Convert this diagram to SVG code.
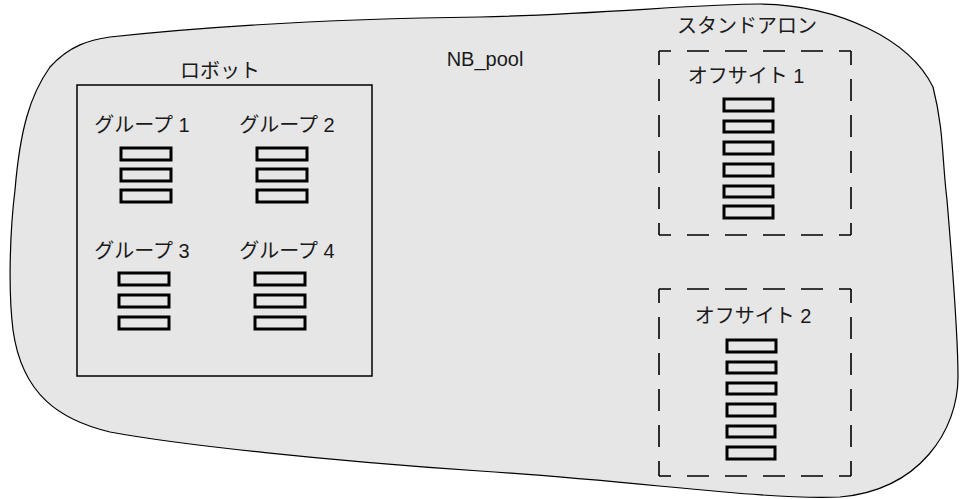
<svg xmlns="http://www.w3.org/2000/svg" width="961" height="499" viewBox="0 0 961 499">
<style>
text{font-family:"Liberation Sans","Noto Sans CJK JP",sans-serif;font-size:20px;fill:#1a1a1a;text-anchor:middle}
.slot{fill:none;stroke:#000;stroke-width:3}
.box{fill:none;stroke:#000;stroke-width:1.5}
.dh{fill:none;stroke:#000;stroke-width:1.6;stroke-dasharray:22 16;stroke-dashoffset:10}
.dv{fill:none;stroke:#000;stroke-width:1.6;stroke-dasharray:22 14;stroke-dashoffset:8}
</style>
<rect width="961" height="499" fill="#fff"/>
<g id="nb_pool">
<path d="M933,87 C944,130 942,160 947,200 C952,260 958,330 958,377 C958,430 920,490 840,497 C760,500 650,482 480,471 C330,461 180,445 110,432 C60,420 22,395 13,330 C8,290 10,230 15,190 C20,130 30,95 50,67 C70,45 90,40 110,37 C250,22 400,18 480,17 C600,14 700,4 760,4 C840,5 910,40 933,87 Z" fill="#e6e6e6" stroke="#000" stroke-width="1.2"/>
<text x="485" y="66">NB_pool</text>
</g>
<g id="robot">
<rect class="box" x="77" y="85" width="295" height="291"/>
<text x="220" y="78">ロボット</text>
</g>
<g id="group1">
<text x="142" y="132">グループ 1</text>
<rect class="slot" x="121" y="148" width="50" height="12"/>
<rect class="slot" x="121" y="169" width="50" height="12"/>
<rect class="slot" x="121" y="190" width="50" height="12"/>
</g>
<g id="group2">
<text x="287" y="132">グループ 2</text>
<rect class="slot" x="257" y="148" width="50" height="12"/>
<rect class="slot" x="257" y="169" width="50" height="12"/>
<rect class="slot" x="257" y="190" width="50" height="12"/>
</g>
<g id="group3">
<text x="142" y="258">グループ 3</text>
<rect class="slot" x="119" y="273" width="50" height="12"/>
<rect class="slot" x="119" y="295" width="50" height="12"/>
<rect class="slot" x="119" y="317" width="50" height="12"/>
</g>
<g id="group4">
<text x="287" y="258">グループ 4</text>
<rect class="slot" x="255" y="273" width="50" height="12"/>
<rect class="slot" x="255" y="295" width="50" height="12"/>
<rect class="slot" x="255" y="317" width="50" height="12"/>
</g>
<g id="standalone">
<text x="747" y="33">スタンドアロン</text>
</g>
<g id="offsite1">
<path class="dh" d="M659,51 H851 M659,235 H851"/>
<path class="dv" d="M659,51 V235 M851,51 V235"/>
<text x="746" y="83">オフサイト 1</text>
<rect class="slot" x="724" y="99" width="49" height="12"/>
<rect class="slot" x="724" y="121" width="49" height="11"/>
<rect class="slot" x="724" y="142" width="49" height="12"/>
<rect class="slot" x="724" y="164" width="49" height="12"/>
<rect class="slot" x="724" y="186" width="49" height="11"/>
<rect class="slot" x="724" y="206" width="49" height="12"/>
</g>
<g id="offsite2">
<path class="dh" d="M659,289 H851 M659,476 H851"/>
<path class="dv" d="M659,289 V476 M851,289 V476"/>
<text x="753" y="323">オフサイト 2</text>
<rect class="slot" x="727" y="340" width="49" height="12"/>
<rect class="slot" x="727" y="362" width="49" height="11"/>
<rect class="slot" x="727" y="383" width="49" height="11"/>
<rect class="slot" x="727" y="404" width="48" height="12"/>
<rect class="slot" x="727" y="426" width="48" height="11"/>
<rect class="slot" x="727" y="447" width="48" height="12"/>
</g>
<g id="connectors"/>
</svg>
